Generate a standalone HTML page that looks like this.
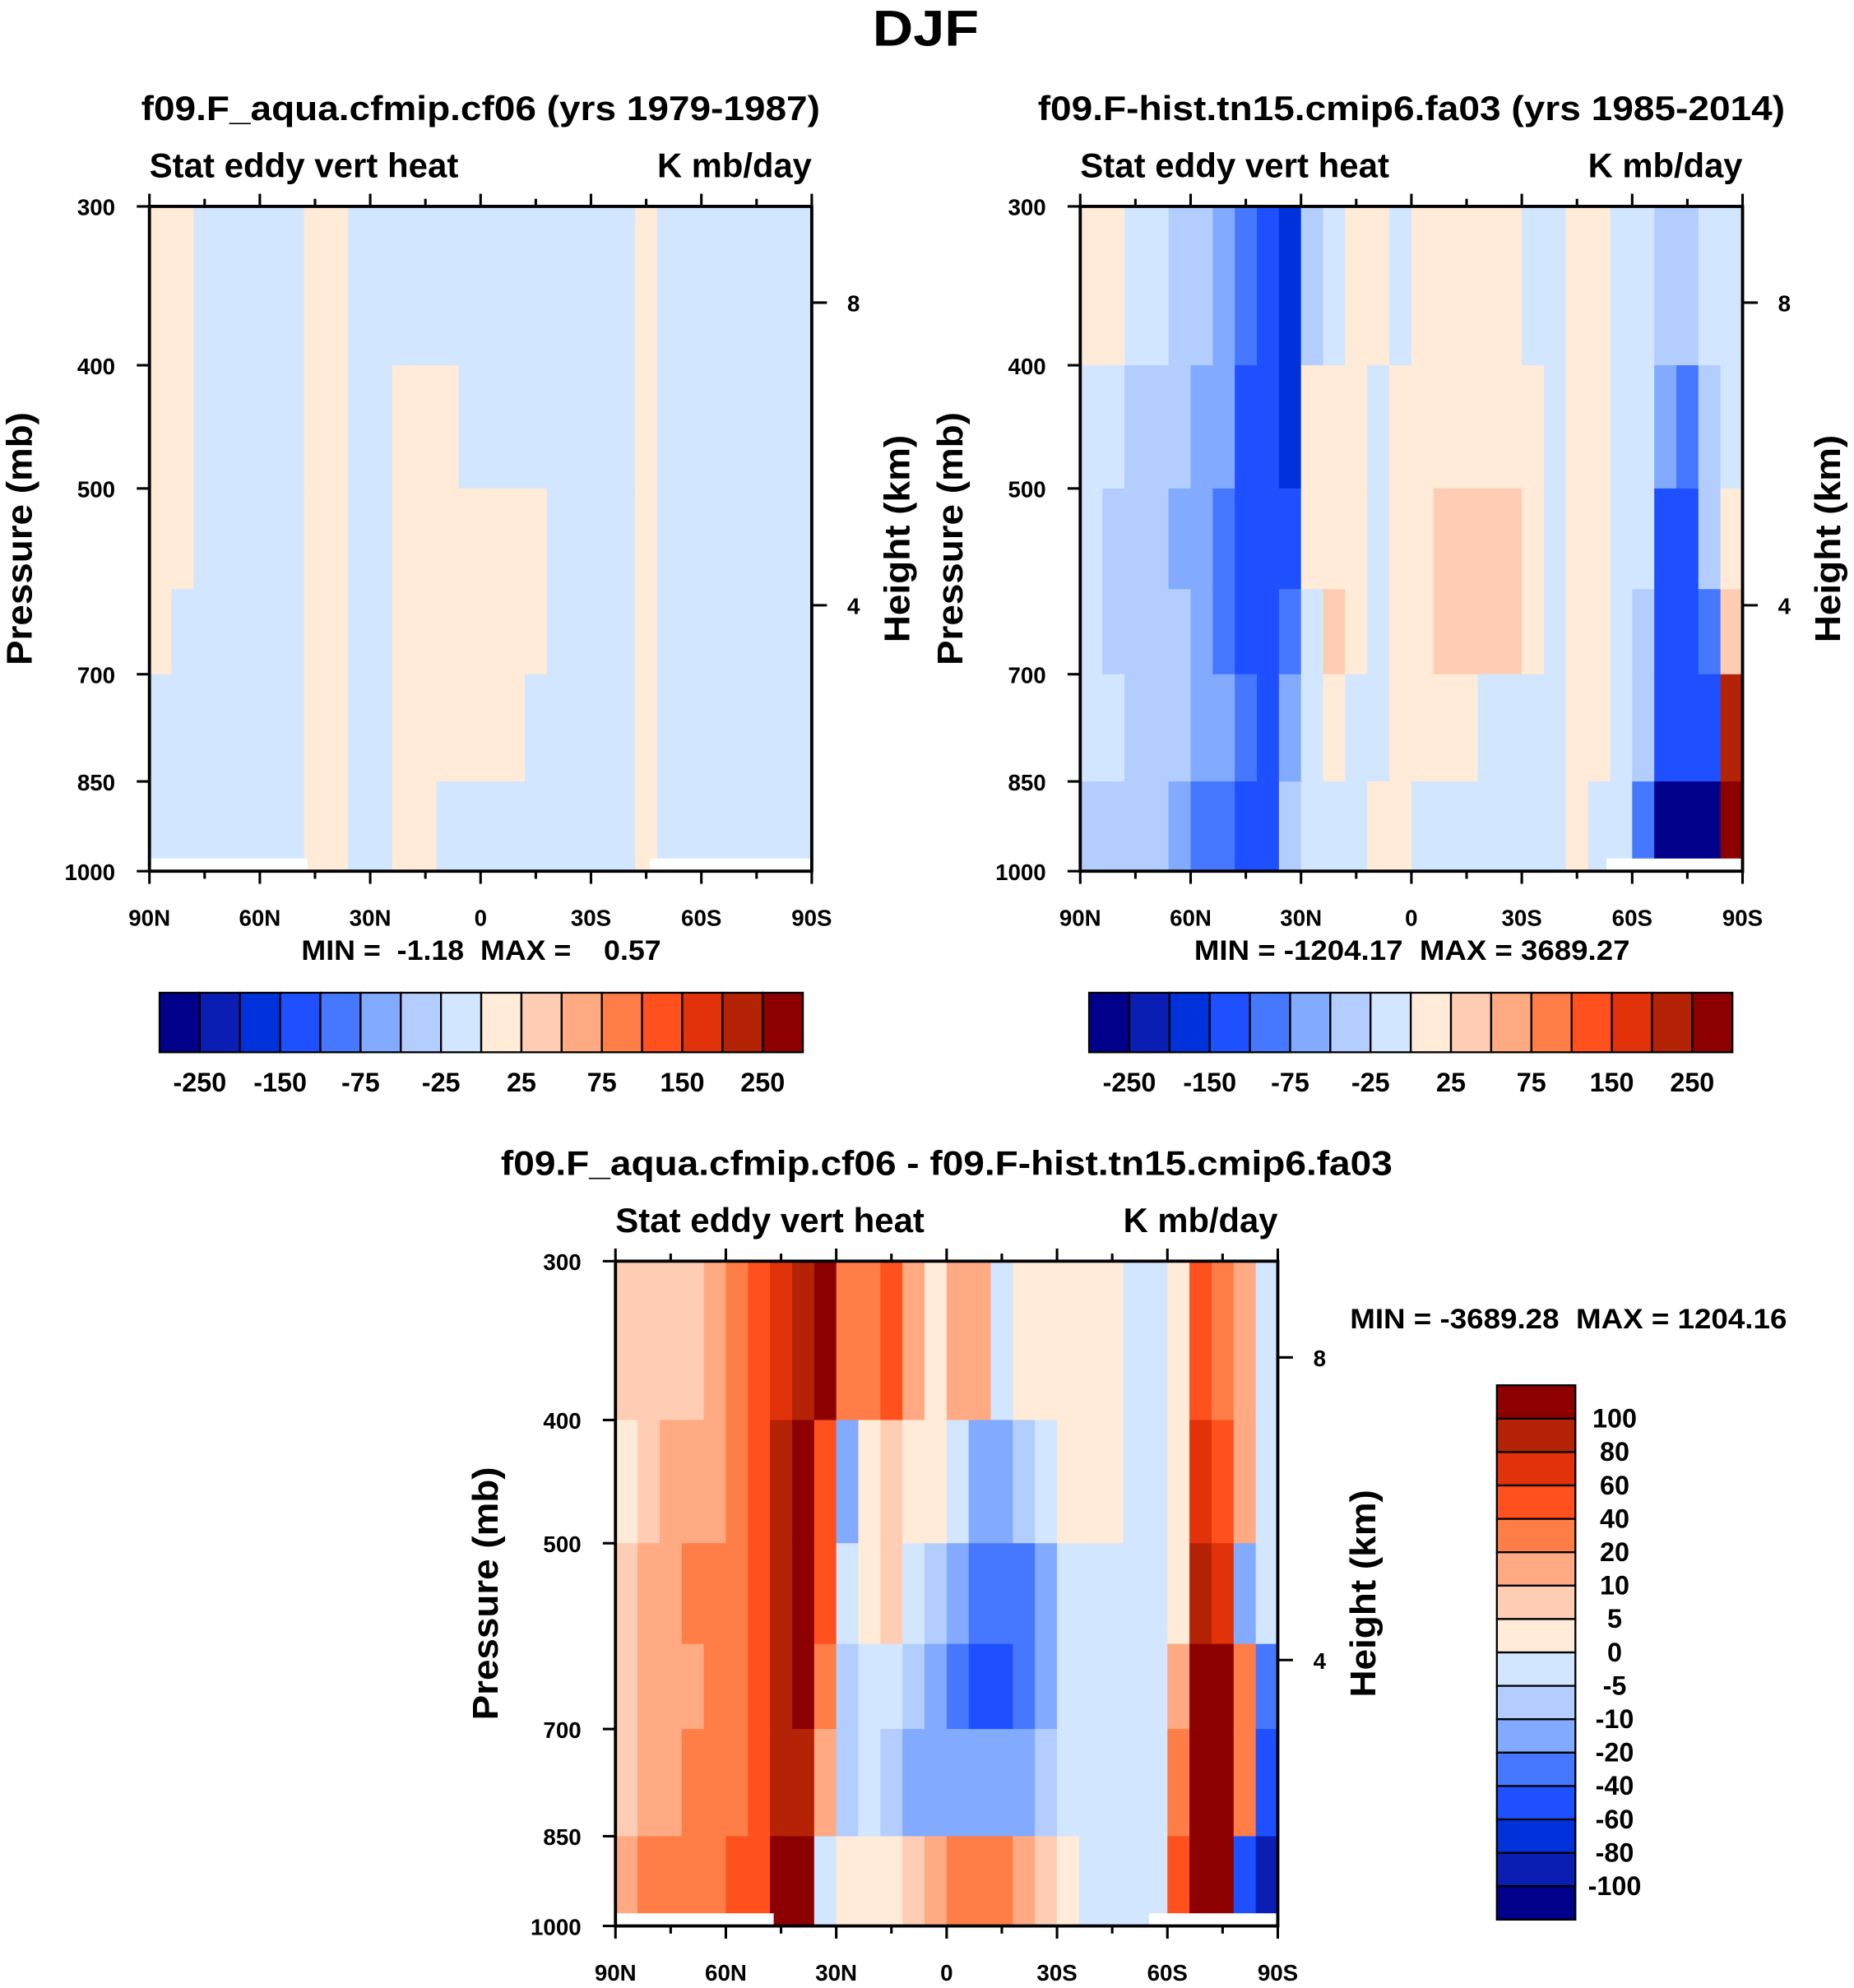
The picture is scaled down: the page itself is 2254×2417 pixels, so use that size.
<!DOCTYPE html>
<html><head><meta charset="utf-8"><style>
html,body{margin:0;padding:0;background:#fff}
svg{display:block}
text{font-family:"Liberation Sans",sans-serif;font-weight:bold;fill:#000;white-space:pre}
</style></head><body>
<svg id="fig" width="2254" height="2417" viewBox="0 0 1464 1570" preserveAspectRatio="none" xmlns="http://www.w3.org/2000/svg">
<text x="731" y="36" font-size="40" text-anchor="middle" textLength="84" lengthAdjust="spacingAndGlyphs">DJF</text>
</svg>
<script>
const colors=["#00008b","#0a1eb4","#0032dc","#1e50ff","#4678ff","#82aaff","#b4cdff","#d2e6ff","#ffebd7","#ffcdb4","#ffaa82","#ff7d46","#ff501e","#e1320a","#b42305","#8c0000"];
const levelsAbs=[-250,-200,-150,-100,-75,-50,-25,0,25,50,75,100,150,200,250];
const levelsDiff=[-100,-80,-60,-40,-20,-10,-5,0,5,10,20,40,60,80,100];
const latEdges=[90,84,78,72,66,60,54,48,42,36,30,24,18,12,6,0,-6,-12,-18,-24,-30,-36,-42,-48,-54,-60,-66,-72,-78,-84,-90];
const presEdges=[300,400,500,600,700,850,1000];
const pTicks=[300,400,500,700,850,1000];
const latTicks=[90,60,30,0,-30,-60,-90];
const latTickLabels=["90N","60N","30N","0","30S","60S","90S"];
const hTicks=[8,4];
const hTickLabels=["8","4"];
const p1=[
[0.3,0.3,0.3,0.3,-0.5,-0.5],[0.3,0.3,0.3,-0.5,-0.5,-0.5],[-0.5,-0.5,-0.5,-0.5,-0.5,-0.5],[-0.5,-0.5,-0.5,-0.5,-0.5,-0.5],
[-0.5,-0.5,-0.5,-0.5,-0.5,-0.5],[-0.5,-0.5,-0.5,-0.5,-0.5,-0.5],[-0.5,-0.5,-0.5,-0.5,-0.5,-0.5],[0.3,0.3,0.3,0.3,0.3,0.3],
[0.3,0.3,0.3,0.3,0.3,0.3],[-0.5,-0.5,-0.5,-0.5,-0.5,-0.5],[-0.5,-0.5,-0.5,-0.5,-0.5,-0.5],[-0.5,0.3,0.3,0.3,0.3,0.3],
[-0.5,0.3,0.3,0.3,0.3,0.3],[-0.5,0.3,0.3,0.3,0.3,-0.5],[-0.5,-0.5,0.3,0.3,0.3,-0.5],[-0.5,-0.5,0.3,0.3,0.3,-0.5],
[-0.5,-0.5,0.3,0.3,0.3,-0.5],[-0.5,-0.5,0.3,0.3,-0.5,-0.5],[-0.5,-0.5,-0.5,-0.5,-0.5,-0.5],[-0.5,-0.5,-0.5,-0.5,-0.5,-0.5],
[-0.5,-0.5,-0.5,-0.5,-0.5,-0.5],[-0.5,-0.5,-0.5,-0.5,-0.5,-0.5],[0.3,0.3,0.3,0.3,0.3,0.3],[-0.5,-0.5,-0.5,-0.5,-0.5,-0.5],
[-0.5,-0.5,-0.5,-0.5,-0.5,-0.5],[-0.5,-0.5,-0.5,-0.5,-0.5,-0.5],[-0.5,-0.5,-0.5,-0.5,-0.5,-0.5],[-0.5,-0.5,-0.5,-0.5,-0.5,-0.5],
[-0.5,-0.5,-0.5,-0.5,-0.5,-0.5],[-0.5,-0.5,-0.5,-0.5,-0.5,-0.5]];
const p2=[
[10,-10,-10,-10,-10,-30],[10,-10,-30,-30,-10,-30],[-10,-30,-30,-30,-30,-30],[-10,-30,-30,-30,-30,-30],
[-30,-30,-60,-30,-30,-60],[-30,-60,-60,-60,-60,-80],[-60,-60,-80,-80,-60,-80],[-80,-120,-120,-120,-80,-120],
[-120,-120,-120,-120,-120,-120],[-175,-175,-120,-80,-60,-30],[-30,10,10,-10,-10,-10],[-10,10,10,40,10,-10],
[10,10,10,10,-10,-10],[10,-10,-10,-10,-10,10],[-10,10,10,10,10,10],[10,10,10,10,10,-10],
[10,10,40,40,10,-10],[10,10,40,40,10,-10],[10,10,40,40,-10,-10],[10,10,40,40,-10,-10],
[-10,10,10,10,-10,-10],[-10,-10,-10,-10,-10,-10],[10,10,10,10,10,10],[10,10,10,10,10,-10],
[-10,-10,-10,-10,-10,-10],[-10,-10,-10,-30,-30,-80],[-30,-60,-120,-120,-120,-300],[-30,-80,-120,-120,-120,-300],
[-10,-30,-30,-80,-120,-300],[-10,-10,10,40,200,300]];
const p3=[
[7,3,7,7,7,15],[7,7,15,15,15,30],[7,15,15,15,15,30],[7,15,30,15,30,30],
[15,15,30,30,30,30],[30,30,30,30,30,50],[50,50,50,50,50,50],[70,90,90,90,90,110],
[90,110,110,110,90,110],[110,50,50,30,15,-3],[30,-15,-3,-7,-7,3],[30,3,3,-3,-3,3],
[50,7,7,-3,-7,3],[15,3,-3,-7,-15,7],[3,3,-7,-15,-15,15],[15,-3,-15,-30,-15,30],
[15,-15,-30,-50,-15,30],[-3,-15,-30,-50,-15,30],[3,-7,-30,-30,-15,15],[3,-3,-15,-15,-7,7],
[3,3,-3,-3,-3,3],[3,3,-3,-3,-3,-3],[3,3,-3,-3,-3,-3],[-3,-3,-3,-3,-3,-3],
[-3,-3,-3,-3,-3,-3],[3,3,3,15,30,50],[50,70,90,110,110,110],[30,50,70,110,110,110],
[15,15,-15,30,30,-60],[-3,-3,-3,-30,-50,-100]];

const NS="http://www.w3.org/2000/svg";
const svg=document.getElementById('fig');
function mk(tag,attrs,parent){const e=document.createElementNS(NS,tag);for(const k in attrs)e.setAttribute(k,attrs[k]);(parent||svg).appendChild(e);return e;}
function txt(x,y,s,size,anchor,parent,len){const a={x:x,y:y,'font-size':size,'text-anchor':anchor||'middle'};if(len){a.textLength=len;a.lengthAdjust='spacingAndGlyphs';}const t=mk('text',a,parent);t.textContent=s;return t;}
function colorOf(v,lev){let i=0;while(i<lev.length&&v>=lev[i])i++;return colors[i];}

function panel(px,py,data,lev,title,titleLen,name,missing,stats){
  const W=523,H=525;
  const g=mk('g',{});
  
  
  const xs=lat=>px+(90-lat)/180*W;
  const ys=p=>py+Math.log(p/300)/Math.log(1000/300)*H;
  const yh=h=>py+76+(8-h)*59.75;
  for(let c=0;c<data.length;c++)for(let r=0;r<data[c].length;r++){
    const x0=xs(latEdges[c]),x1=xs(latEdges[c+1]),y0=ys(presEdges[r]),y1=ys(presEdges[r+1]);
    const rc=mk('rect',{x:x0,y:y0,width:x1-x0+0.6,height:y1-y0+0.6,fill:colorOf(data[c][r],lev)},g);
    
    
  }
  missing.forEach(m=>{mk('rect',{x:xs(m[0]),y:py+H-10,width:xs(m[1])-xs(m[0]),height:10,fill:'#fff'},g);});
  const fr=mk('rect',{x:px,y:py,width:W,height:H,fill:'none',stroke:'#000','stroke-width':2.5},g);
  
  
  for(let l=90;l>=-90;l-=15){const x=xs(l);const len=(l%30===0)?10:6;
    mk('line',{x1:x,y1:py,x2:x,y2:py-len,stroke:'#000','stroke-width':2},g);
    mk('line',{x1:x,y1:py+H,x2:x,y2:py+H+len,stroke:'#000','stroke-width':2},g);}
  latTicks.forEach((l,i)=>{const t=txt(xs(l),py+H+43,latTickLabels[i],18,'middle',g);
    
    });
  pTicks.forEach(p=>{const y=ys(p);mk('line',{x1:px,y1:y,x2:px-10,y2:y,stroke:'#000','stroke-width':2},g);
    const t=txt(px-27,y+7,String(p),18,'end',g);
    
    });
  hTicks.forEach((h,i)=>{const y=yh(h);
    mk('line',{x1:px+W,y1:y,x2:px+W+12,y2:y,stroke:'#000','stroke-width':2},g);
    const t=txt(px+W+28,y+7,hTickLabels[i],18,'start',g);
    
    });
  const tt=txt(px+W/2,py-68,title,27,'middle',g,titleLen);
  
  
  const t1=txt(px,py-23,'Stat eddy vert heat',27,'start',g,244);
  
  
  const t2=txt(px+W,py-23,'K mb/day',27,'end',g,122);
  
  
  const yl=txt(0,0,'Pressure (mb)',28,'middle',g,200);
  yl.setAttribute('transform','translate('+(px-93)+','+(py+H/2)+') rotate(-90)');
  
  
  const hl=txt(0,0,'Height (km)',28,'middle',g,164);
  hl.setAttribute('transform','translate('+(px+W+77)+','+(py+H/2)+') rotate(-90)');
  
  
  if(stats){const s=txt(stats[0],stats[1],stats[2],22,stats[3],g,stats[4]);
    
    }
}
function hbar(x,y,name){
  const g=mk('g',{});
  
  
  const bw=508/16;
  colors.forEach((c,i)=>{const r=mk('rect',{x:x+i*bw,y:y,width:bw,height:47,fill:c,stroke:'#000','stroke-width':1.5},g);
    
    });
  for(let k=0;k<15;k+=2){const t=txt(x+(k+1)*bw,y+78,String(levelsAbs[k]),21,'middle',g);
    
    }
}
panel(118,163,p1,levelsAbs,'f09.F_aqua.cfmip.cf06 (yrs 1979-1987)',536,'panel-model',[[90,47],[-46,-90]],[380,758,'MIN =  -1.18  MAX =    0.57','middle',284]);
panel(853,163,p2,levelsAbs,'f09.F-hist.tn15.cmip6.fa03 (yrs 1985-2014)',590,'panel-obs',[[-53,-90]],[1115,758,'MIN = -1204.17  MAX = 3689.27','middle',344]);
panel(486,996,p3,levelsDiff,'f09.F_aqua.cfmip.cf06 - f09.F-hist.tn15.cmip6.fa03',704,'panel-difference',[[90,47],[-55,-90]],[1066,1049,'MIN = -3689.28  MAX = 1204.16','start',345]);
hbar(126,784,'colorbar-model');
hbar(860,784,'colorbar-obs');
(function(){
  const g=mk('g',{});
  
  
  const x=1182,y=1094,bh=422/16;
  for(let i=0;i<16;i++){const r=mk('rect',{x:x,y:y+i*bh,width:62,height:bh,fill:colors[15-i],stroke:'#000','stroke-width':1.5},g);
    
    }
  for(let k=0;k<15;k++){const t=txt(1275,y+(k+1)*bh+7,String(levelsDiff[14-k]),21,'middle',g);
    
    }
})();
</script>
</body></html>
